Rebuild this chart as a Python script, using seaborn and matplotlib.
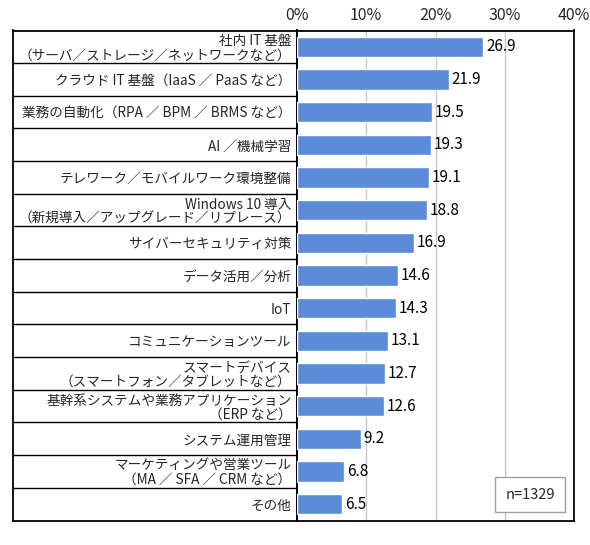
import seaborn as sns
import matplotlib.pyplot as plt
import pandas as pd

categories = [
    "社内 IT 基盤\n（サーバ／ストレージ／ネットワークなど）",
    "クラウド IT 基盤（IaaS ／ PaaS など）",
    "業務の自動化（RPA ／ BPM ／ BRMS など）",
    "AI ／機械学習",
    "テレワーク／モバイルワーク環境整備",
    "Windows 10 導入\n（新規導入／アップグレード／リプレース）",
    "サイバーセキュリティ対策",
    "データ活用／分析",
    "IoT",
    "コミュニケーションツール",
    "スマートデバイス\n（スマートフォン／タブレットなど）",
    "基幹系システムや業務アプリケーション\n（ERP など）",
    "システム運用管理",
    "マーケティングや営業ツール\n（MA ／ SFA ／ CRM など）",
    "その他",
]
values = [26.9, 21.9, 19.5, 19.3, 19.1, 18.8, 16.9, 14.6, 14.3, 13.1, 12.7, 12.6, 9.2, 6.8, 6.5]
xticks = [0, 10, 20, 30, 40]
note = "n=1329"

sns.set_style("white")
plt.rcParams['font.family'] = ['Noto Sans CJK JP', 'DejaVu Sans']

df = pd.DataFrame({"item": categories, "pct": values})
W, H = 590, 545
fig = plt.figure(figsize=(W / 100, H / 100), dpi=100)

top_px, bot_px = 30.5, 520.5
left_px, zero_px, right_px = 13, 297, 574
ax = fig.add_axes([zero_px / W, 1 - bot_px / H, (right_px - zero_px) / W, (bot_px - top_px) / H])
ax_l = fig.add_axes([left_px / W, 1 - bot_px / H, (zero_px - left_px) / W, (bot_px - top_px) / H], sharey=ax)

sns.barplot(data=df, x="pct", y="item", orient="h", color="#5B8BD9", saturation=1,
            width=0.63, ax=ax, zorder=3)

ax.set_xlim(0, 40)
ax.set_ylim(len(categories) - 0.5, -0.5)
ax.set_xticks(xticks)
ax.set_xticklabels([f"{t}%" for t in xticks], fontsize=11.5)
ax.xaxis.tick_top()
ax.tick_params(axis="x", length=0, pad=5)
ax.tick_params(axis="y", length=0, pad=4, labelsize=9.8)
ax.set_xlabel("")
ax.set_ylabel("")
for lab in ax.get_yticklabels():
    lab.set_linespacing(1.0)
ax.grid(axis="x", color="#C8C8C8", linewidth=1, zorder=0)
for s in ax.spines.values():
    s.set_color("black")
    s.set_linewidth(1.3)

for i, v in enumerate(values):
    ax.text(v + 0.4, i, f"{v}", va="center", ha="left", fontsize=11, color="black")

# label table on the left
ax_l.set_xlim(0, 1)
ax_l.set_xticks([])
ax_l.tick_params(axis="y", left=False, labelleft=False)
for i in range(1, len(categories)):
    ax_l.axhline(i - 0.5, color="black", linewidth=1)
for s in ax_l.spines.values():
    s.set_color("black")
    s.set_linewidth(1.3)
ax_l.patch.set_alpha(0)
ax.set_zorder(2)

ax.text(0.841, 0.053, note, transform=ax.transAxes, ha="center", va="center", fontsize=10.5,
        bbox=dict(boxstyle="square,pad=0.7", facecolor="white", edgecolor="#A0A0A0", linewidth=1),
        zorder=5)

fig.savefig("out.png", dpi=100)
